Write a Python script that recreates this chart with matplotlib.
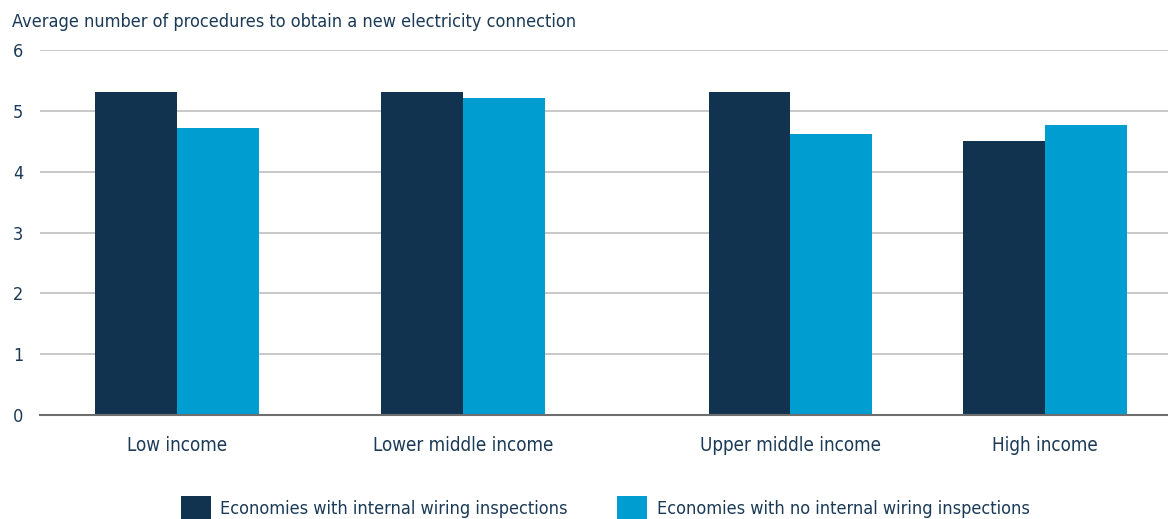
import matplotlib
matplotlib.use("Agg")
import matplotlib.pyplot as plt
import numpy as np

categories = ["Low income", "Lower middle income", "Upper middle income", "High income"]
with_inspections = [5.31, 5.31, 5.31, 4.51]
no_inspections = [4.72, 5.21, 4.62, 4.77]
series_names = ["Economies with internal wiring inspections",
                "Economies with no internal wiring inspections"]
yticks = [0, 1, 2, 3, 4, 5, 6]
title = "Average number of procedures to obtain a new electricity connection"

# layout (axis-fraction group centres, bar width)
group_pos = [0.1215, 0.375, 0.665, 0.891]
bar_w = 0.0723

plt.rcParams['font.family'] = ['DejaVu Sans']
plt.rcParams['font.stretch'] = 'condensed'
txt = "#1b3a57"
dark = "#12334f"
light = "#009dd0"

fig = plt.figure(figsize=(11.68, 5.19), dpi=100)
ax = fig.add_axes([40/1168, 1-415/519, 1128/1168, (415-50)/519])
x = np.array(group_pos)
ax.bar(x - bar_w/2, with_inspections, bar_w, color=dark, label=series_names[0], zorder=3)
ax.bar(x + bar_w/2, no_inspections, bar_w, color=light, label=series_names[1], zorder=3)
ax.set_xlim(0, 1)
ax.set_ylim(0, 6)
ax.set_yticks(yticks)
ax.set_xticks(x)
ax.set_xticklabels(categories, fontsize=13.5, color=txt)
ax.tick_params(axis='x', length=0, pad=15)
ax.tick_params(axis='y', length=0, pad=19.5, labelsize=13, labelcolor=txt)
for lab in ax.get_yticklabels():
    lab.set_horizontalalignment('left')
ax.grid(axis='y', color="#c4c4c4", linewidth=1.3, zorder=0)
for s in ['top', 'right', 'left']:
    ax.spines[s].set_visible(False)
ax.spines['bottom'].set_color("#6e6e6e")
ax.spines['bottom'].set_linewidth(1.5)
ax.spines['bottom'].set_zorder(4)

fig.text(12/1168, 1-22/519, title, fontsize=13, color=txt, va='center', ha='left')

leg = fig.legend(loc='center', bbox_to_anchor=(0.518, 1-508/519), ncol=2, frameon=False,
                 fontsize=13, handlelength=1.66, handleheight=1.66, handletextpad=0.55,
                 columnspacing=2.7, borderpad=0, borderaxespad=0)
for t in leg.get_texts():
    t.set_color(txt)

fig.savefig("out.png", dpi=100)
